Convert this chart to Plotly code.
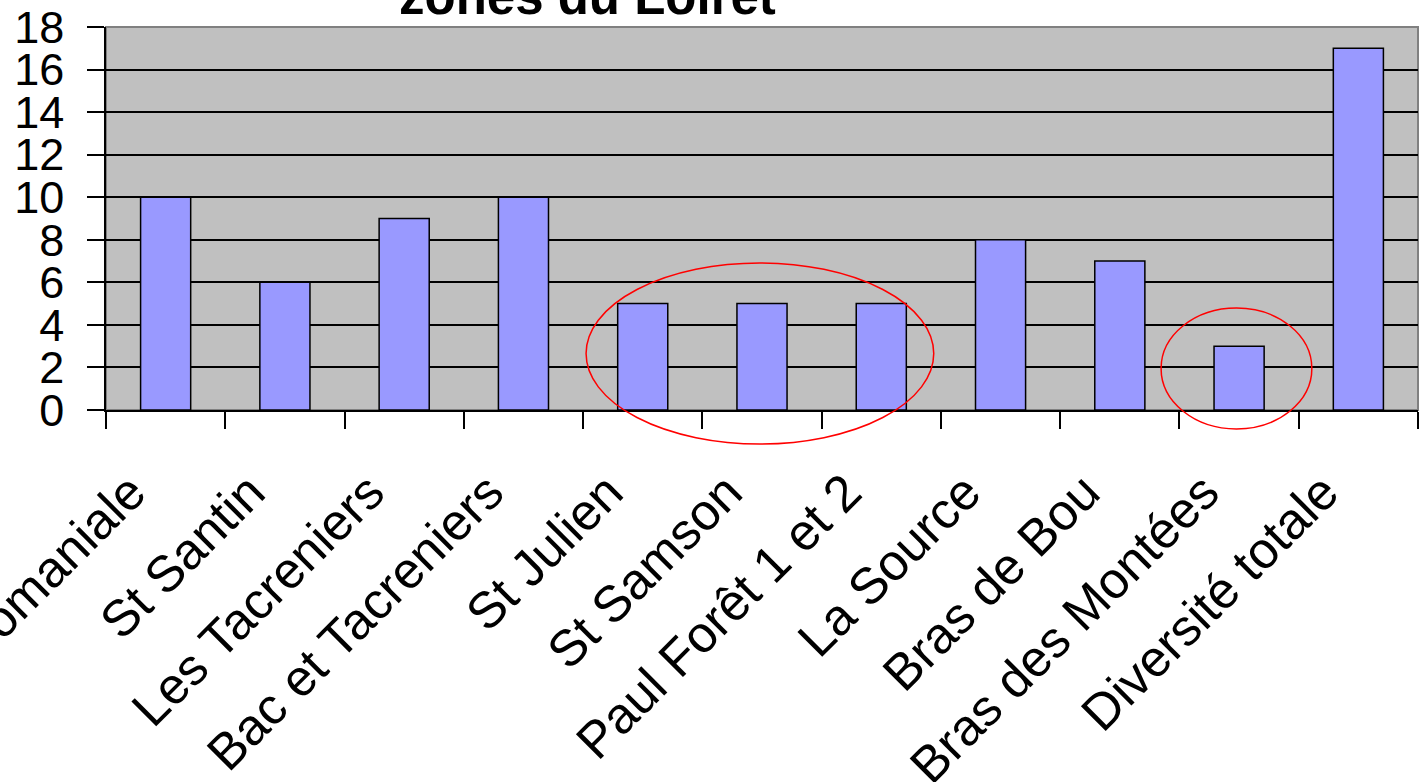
import plotly.graph_objects as go

categories = ["Forêt Domaniale", "St Santin", "Les Tacreniers", "Bac et Tacreniers",
              "St Julien", "St Samson", "Paul Forêt 1 et 2", "La Source",
              "Bras de Bou", "Bras des Montées", "Diversité totale"]
values = [10, 6, 9, 10, 5, 5, 5, 8, 7, 3, 17]
y_ticks = list(range(0, 19, 2))
title_text = "zones du Loiret"

# highlight ellipses in data units: (x from, x to, y from, y to), x as category index
ellipses = [(3.525, 6.44, -1.6, 6.91), (8.346, 9.61, -0.89, 4.79)]

FONT = "Liberation Sans, Arial, sans-serif"
n = len(categories)
ymax = 18

fig = go.Figure()
fig.add_trace(go.Bar(
    x=categories, y=values,
    marker=dict(color="#9999FF", line=dict(color="black", width=1.5)),
    hoverinfo="x+y",
))

shapes = [dict(type="rect", xref="paper", yref="paper", x0=0, x1=1, y0=0, y1=1,
               line=dict(color="#808080", width=2), layer="below")]
for (a, b, c, d) in ellipses:
    shapes.append(dict(type="circle", xref="paper", yref="paper",
                       x0=(a + 0.5) / n, x1=(b + 0.5) / n,
                       y0=c / ymax, y1=d / ymax,
                       line=dict(color="#FF0000", width=1.5), layer="above"))

fig.update_layout(
    width=1423, height=782,
    margin=dict(l=106, r=5, t=27, b=372, autoexpand=False),
    paper_bgcolor="white", plot_bgcolor="#C0C0C0",
    bargap=0.58, showlegend=False,
    font=dict(family=FONT, color="black"),
    shapes=shapes,
    annotations=[dict(text="<b>" + title_text + "</b>", xref="paper", yref="paper",
                      x=(587 - 106) / 1312, y=1.0, xanchor="center", yanchor="bottom",
                      yshift=0, showarrow=False,
                      font=dict(family=FONT, size=51, color="black"))],
    xaxis=dict(type="category", range=[-0.5, n - 0.5], tickangle=-45,
               tickson="boundaries", ticks="outside", ticklen=17, tickwidth=1.5,
               tickcolor="black", showline=True, linecolor="black", linewidth=1.5,
               showgrid=False, automargin=False,
               ticklabelstandoff=30, ticklabelshift=-35,
               tickfont=dict(family=FONT, size=51, color="black")),
    yaxis=dict(range=[0, ymax], tickvals=y_ticks, ticks="outside", ticklen=17,
               tickwidth=1.5, tickcolor="black", showline=True, linecolor="black",
               linewidth=1.5, showgrid=True, gridcolor="black", gridwidth=1.5,
               zeroline=False, automargin=False, ticklabelstandoff=14,
               tickfont=dict(family=FONT, size=45, color="black")),
)

fig.write_html("out.html", config={"displayModeBar": False},
               post_script="document.body.style.margin='0';")
